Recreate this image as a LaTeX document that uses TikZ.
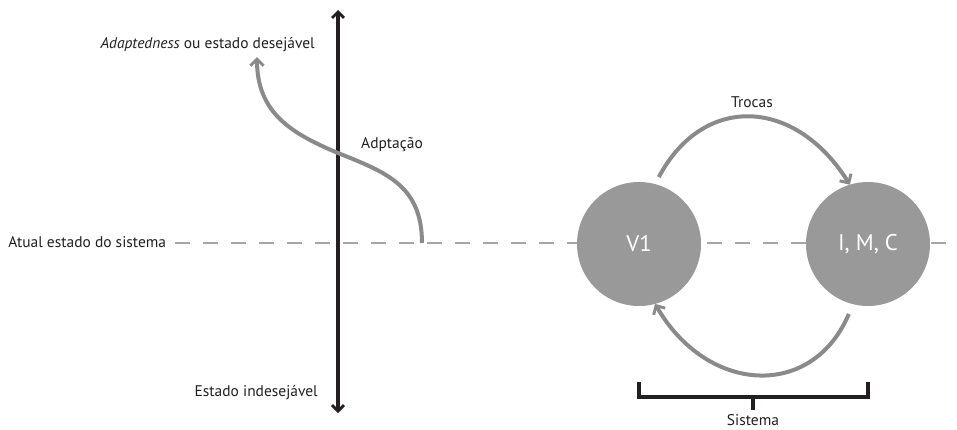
\documentclass[tikz,border=0pt]{standalone}
\usepackage{fontspec}
\setmainfont{PT Sans}
\usetikzlibrary{arrows.meta}
\definecolor{curvegray}{HTML}{8A8A8A}
\definecolor{circgray}{HTML}{999999}
\definecolor{dashgray}{HTML}{A6A6A6}
\definecolor{axisblack}{HTML}{231F20}
\begin{document}
\begin{tikzpicture}[x=0.75pt,y=-0.75pt,
  lbl/.style={font=\fontsize{11.6pt}{14pt}\selectfont, text=axisblack, inner sep=0pt},
  circ/.style={circle, fill=circgray, minimum size=124*0.75pt, inner sep=0pt, outer sep=0pt,
    text=white, font=\fontsize{17pt}{20pt}\selectfont},
  grayarrow/.style={draw=curvegray, line width=3pt, -{Straight Barb[length=5pt,width=10pt,line width=2.2pt]}},
  axis/.style={draw=axisblack, line width=2.3pt, {Straight Barb[length=4.5pt,width=9pt,line width=2pt]}-{Straight Barb[length=4.5pt,width=9pt,line width=2pt]}},
  dashline/.style={draw=dashgray, line width=0.9pt, dash pattern=on 11pt off 10pt},
  bracket/.style={draw=axisblack, line width=2.3pt}]
\useasboundingbox (0,0) rectangle (957,429);
% dashed reference line
\coordinate (dl) at (175,243);
\coordinate (dr) at (957,243);
\draw[dashline] (dl) -- (dr);
% axis
\coordinate (axtop) at (338,10);
\coordinate (axbot) at (338,413);
\draw[axis] (axbot) -- (axtop);
% adaptation curve
\coordinate (cstart) at (422,243);
\coordinate (cmid) at (338,153);
\coordinate (cend) at (257,57);
\draw[grayarrow] (cstart) .. controls (422,185) and (385,172) .. (cmid)
   .. controls (290,133) and (257,112) .. (cend);
% labels left
\node[lbl, anchor=east] (adapt) at (315,45) {\textit{Adaptedness} ou estado desejável};
\node[lbl, anchor=west] (atual) at (8,242) {Atual estado do sistema};
\node[lbl, anchor=east] (indes) at (318,393) {Estado indesejável};
\node[lbl] (adpt) at (392,145) {Adptação};
% circles
\node[circ] (v1) at (639,244) {V1};
\node[circ] (imc) at (868,244) {I, M, C};
% exchange arrows
\draw[grayarrow, shorten <=6pt] (v1.75) to[out=62, in=122, looseness=1.35] (imc.107);
\draw[grayarrow, shorten <=8pt] (imc.-104) to[out=-113, in=-60, looseness=1.35] (v1.-75);
\node[lbl] (trocas) at (752,102) {Trocas};
% bracket
\coordinate (bl) at (639,382);
\coordinate (br) at (868,382);
\coordinate (bm) at (753,410);
\draw[bracket] (bl) -- (bl |- 0,397) -- (br |- 0,397) -- (br);
\draw[bracket] (bm |- 0,397) -- (bm);
\node[lbl] (sist) at (753,420) {Sistema};
\end{tikzpicture}
\end{document}
